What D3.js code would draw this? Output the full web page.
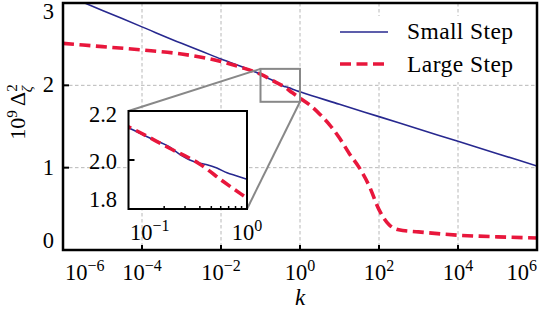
<!DOCTYPE html>
<html><head><meta charset="utf-8">
<script src="https://cdn.jsdelivr.net/npm/d3@7"></script>
<style>body{margin:0;background:#fff}svg{display:block}svg text{font-family:'Liberation Serif','Times New Roman',serif;fill:#000}</style>
</head><body>
<svg id="c" width="540" height="310" font-family="Liberation Serif, serif"></svg>
<script>
// ---- data ----
const smallK = [1e-6,1e-5,1e-4,1e-3,1e-2,0.1,0.122,0.157,0.222,0.281,0.329,0.4,0.467,0.557,0.678,0.822,1,10,100,1e3,1e4,1e5,1e6];
const smallV = [3.11,2.91,2.71,2.51,2.32,2.132,2.111,2.086,2.053,2.018,2.0,1.987,1.98,1.967,1.948,1.935,1.921,1.77,1.62,1.47,1.32,1.17,1.02];
const largeK = [1e-6,1e-5,1e-4,1e-3,1e-2,0.0316,0.1,0.222,0.398,0.631,1,1.778,3.162,5.623,10,17.78,31.62,56.23,100,177.8,316.2,1e3,1e4,1e5,1e6];
const largeV = [2.51,2.47,2.43,2.38,2.29,2.22,2.135,2.048,1.984,1.912,1.844,1.76,1.65,1.52,1.36,1.17,1.0,0.78,0.49,0.31,0.245,0.22,0.18,0.16,0.146];
const seriesNames = ["Small Step","Large Step"];
const xTicks = [1e-6,1e-4,1e-2,1,1e2,1e4,1e6];
const xTickExp = ["−6","−4","−2","0","2","4","6"];
const yTicks = [0,1,2,3];
const insetXTicks = [0.1,1];
const insetXTickExp = ["−1","0"];
const insetXMinor = [0.2,0.3,0.4,0.5,0.6,0.7,0.8,0.9];
const insetYTicks = [1.8,2.0,2.2];
const zoomBox = {k:[0.1,1], v:[1.8,2.2]};

const FONT = "'Liberation Serif', 'Times New Roman', serif";
const blue = "#27288f", red = "#e8173c", grid = "#b8b8b8", gray = "#888";
const svg = d3.select("#c").style("font-family",FONT);
svg.append("rect").attr("width",540).attr("height",310).attr("fill","#fff");

const L=63,R=537,T=3,B=250;
const x = d3.scaleLog().domain([1e-6,1e6]).range([L,R]);
const y = d3.scaleLinear().domain([0,3]).range([B,T]);

// grid
const g = svg.append("g");
g.selectAll(".vg").data(xTicks.slice(1,-1)).join("line")
 .attr("x1",d=>x(d)).attr("x2",d=>x(d)).attr("y1",T).attr("y2",B)
 .attr("stroke",grid).attr("stroke-width",1).attr("stroke-dasharray","3.5,2.5");
g.selectAll(".hg").data(yTicks.slice(1,-1)).join("line")
 .attr("x1",L).attr("x2",R).attr("y1",d=>y(d)).attr("y2",d=>y(d))
 .attr("stroke",grid).attr("stroke-width",1).attr("stroke-dasharray","3.5,2.5");

svg.append("clipPath").attr("id","mclip").append("rect").attr("x",L).attr("y",T).attr("width",R-L).attr("height",B-T);
function path(sx,sy,K,V){return d3.line().curve(d3.curveMonotoneX).x(d=>sx(d[0])).y(d=>sy(d[1]))(K.map((k,i)=>[k,V[i]]));}

const cg = svg.append("g").attr("clip-path","url(#mclip)");
cg.append("path").attr("d",path(x,y,smallK,smallV)).attr("fill","none").attr("stroke",blue).attr("stroke-width",1.6);
cg.append("path").attr("d",path(x,y,largeK,largeV)).attr("fill","none").attr("stroke",red).attr("stroke-width",3.6).attr("stroke-dasharray","11,5.5");

// legend
const lfs = 23.5;
const lg = svg.append("g");
lg.append("rect").attr("x",333).attr("y",16).attr("width",198).attr("height",66).attr("fill","#fff");
lg.append("line").attr("x1",340).attr("x2",388).attr("y1",32).attr("y2",32).attr("stroke",blue).attr("stroke-width",1.6);
lg.append("line").attr("x1",340).attr("x2",388).attr("y1",64).attr("y2",64).attr("stroke",red).attr("stroke-width",3.6).attr("stroke-dasharray","11,5.5");
lg.append("text").attr("x",407).attr("y",39).attr("font-size",lfs).attr("font-family",FONT).attr("textLength",106).attr("lengthAdjust","spacing").text(seriesNames[0]);
lg.append("text").attr("x",407).attr("y",72).attr("font-size",lfs).attr("font-family",FONT).attr("textLength",106).attr("lengthAdjust","spacing").text(seriesNames[1]);

// inset
const IL=128.5,IR=247,IT=111,IB=209;
const xi = d3.scaleLog().domain([0.1,1]).range([IL,IR]);
const yi = d3.scaleLinear().domain([1.8,2.2]).range([IB,IT]);

// zoom indicator
const zx0=x(zoomBox.k[0]), zx1=x(zoomBox.k[1]), zy0=y(zoomBox.v[1]), zy1=y(zoomBox.v[0]);
svg.append("rect").attr("x",zx0).attr("y",zy0).attr("width",zx1-zx0).attr("height",zy1-zy0)
 .attr("fill","none").attr("stroke",gray).attr("stroke-width",2);
svg.append("line").attr("x1",zx0).attr("y1",zy0).attr("x2",IL).attr("y2",IT).attr("stroke",gray).attr("stroke-width",2);
svg.append("line").attr("x1",zx1).attr("y1",zy1).attr("x2",IR).attr("y2",IB).attr("stroke",gray).attr("stroke-width",2);

svg.append("rect").attr("x",IL).attr("y",IT).attr("width",IR-IL).attr("height",IB-IT).attr("fill","#fff");
svg.append("clipPath").attr("id","iclip").append("rect").attr("x",IL).attr("y",IT).attr("width",IR-IL).attr("height",IB-IT);
const ig = svg.append("g").attr("clip-path","url(#iclip)");
ig.append("path").attr("d",path(xi,yi,smallK,smallV)).attr("fill","none").attr("stroke",blue).attr("stroke-width",1.6);
ig.append("path").attr("d",path(xi,yi,largeK,largeV)).attr("fill","none").attr("stroke",red).attr("stroke-width",3.6).attr("stroke-dasharray","11,5.5");
svg.append("rect").attr("x",IL).attr("y",IT).attr("width",IR-IL).attr("height",IB-IT).attr("fill","none").attr("stroke","#000").attr("stroke-width",2);
// inset ticks
svg.selectAll(".imx").data(insetXMinor).join("line").attr("x1",d=>xi(d)).attr("x2",d=>xi(d)).attr("y1",IB).attr("y2",IB-3).attr("stroke","#000").attr("stroke-width",1.5);
svg.selectAll(".iyt").data(insetYTicks).join("line").attr("x1",IL).attr("x2",IL+6).attr("y1",d=>yi(d)).attr("y2",d=>yi(d)).attr("stroke","#000").attr("stroke-width",2);
const fs=22.5, sfs=16;
svg.selectAll(".iyl").data(insetYTicks).join("text").attr("x",117).attr("text-anchor","end").attr("font-size",fs).attr("font-family",FONT)
 .attr("y",(d,i)=>yi(d)+7+(i===2?4:(i===0?-9:2))).text(d=>d.toFixed(1));
function powLabel(sel,exp){sel.append("tspan").text("10");sel.append("tspan").attr("dy",-9).attr("font-size",sfs).text(exp);}
insetXTicks.forEach((t,i)=>{const tx=svg.append("text").attr("font-size",fs).attr("font-family",FONT).attr("y",240)
  .attr("x",i===0?130:xi(t)).attr("text-anchor",i===0?"start":"middle");powLabel(tx,insetXTickExp[i]);});

// main frame & ticks
svg.append("rect").attr("x",L).attr("y",T).attr("width",R-L).attr("height",B-T).attr("fill","none").attr("stroke","#000").attr("stroke-width",2.5);
svg.selectAll(".xt").data(xTicks).join("line").attr("x1",d=>x(d)).attr("x2",d=>x(d)).attr("y1",B).attr("y2",B-5).attr("stroke","#000").attr("stroke-width",2);
svg.selectAll(".yt").data(yTicks).join("line").attr("x1",L).attr("x2",L+6).attr("y1",d=>y(d)).attr("y2",d=>y(d)).attr("stroke","#000").attr("stroke-width",2);
xTicks.forEach((t,i)=>{const n=xTicks.length;const tx=svg.append("text").attr("font-size",fs).attr("font-family",FONT).attr("y",280)
  .attr("x",i===0?65:(i===n-1?537:x(t))).attr("text-anchor",i===0?"start":(i===n-1?"end":"middle"));powLabel(tx,xTickExp[i]);});
svg.selectAll(".yl").data(yTicks).join("text").attr("x",54).attr("text-anchor","end").attr("font-size",fs).attr("font-family",FONT)
 .attr("y",d=>y(d)+7+(d===3?9:(d===0?-9:0))).text(d=>d);

// axis labels
svg.append("text").attr("x",x(1)).attr("y",305).attr("text-anchor","middle").attr("font-size",23).attr("font-family",FONT).attr("font-style","italic").text("k");
const yl = svg.append("text").attr("transform","translate(25,112) rotate(-90)").attr("text-anchor","middle").attr("font-size",22).attr("font-family",FONT);
yl.append("tspan").text("10");
yl.append("tspan").attr("dy",-8).attr("font-size",15).text("9");
yl.append("tspan").attr("dy",8).text("\u2009Δ");
yl.append("tspan").attr("dy",-8).attr("font-size",15).text("2");
yl.append("tspan").attr("dx",-8).attr("dy",15).attr("font-size",15).attr("font-style","italic").text("ζ");
</script>
</body></html>
